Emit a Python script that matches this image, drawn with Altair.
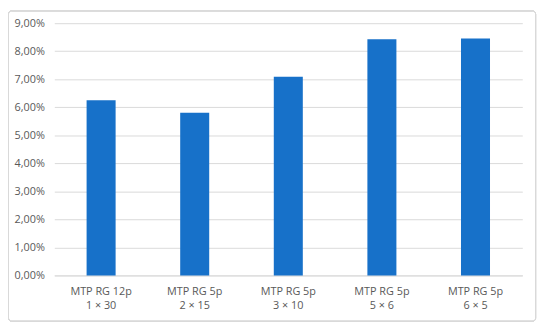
import altair as alt
import pandas as pd

categories = ["MTP RG 12p\n1 × 30", "MTP RG 5p\n2 × 15", "MTP RG 5p\n3 × 10", "MTP RG 5p\n5 × 6", "MTP RG 5p\n6 × 5"]
values = [0.0625, 0.0580, 0.0709, 0.0843, 0.0845]
y_ticks = [0, 0.01, 0.02, 0.03, 0.04, 0.05, 0.06, 0.07, 0.08, 0.09]

df = pd.DataFrame({"cat": categories, "val": values})

FONT = "Open Sans"
GREY = "#595959"

bars = alt.Chart(df).mark_bar(color="#1771C9").encode(
    x=alt.X("cat:N", sort=categories, title=None,
            scale=alt.Scale(paddingInner=0.69, paddingOuter=0.345),
            axis=alt.Axis(labelAngle=0, labelExpr="split(datum.label, '\\n')",
                          labelFont=FONT, labelFontSize=11, labelColor=GREY,
                          labelPadding=10, labelLineHeight=15, ticks=False,
                          domainColor="#D9D9D9", domainWidth=1, grid=False)),
    y=alt.Y("val:Q", title=None,
            scale=alt.Scale(domain=[0, 0.09], nice=False),
            axis=alt.Axis(values=y_ticks,
                          labelExpr="replace(format(datum.value, '.2%'), '.', ',')",
                          labelFont=FONT, labelFontSize=11, labelColor=GREY,
                          labelPadding=10, ticks=False, domain=False,
                          gridColor="#D9D9D9", gridWidth=1)),
)

border = alt.Chart(df).mark_rect(fill=None, stroke="#D9D9D9", strokeWidth=1,
                                 cornerRadius=3, clip=False).encode(
    x=alt.value(-46.5), x2=alt.value(488.5), y=alt.value(-12.5), y2=alt.value(302.5)
)

chart = alt.layer(border, bars).properties(
    width=475, height=256,
    padding={"left": 47, "top": 13, "right": 20, "bottom": 53},
    autosize=alt.AutoSizeParams(type="none"),
).configure(background="white").configure_view(stroke=None)

chart.save("out.html", embed_options={"renderer": "svg", "actions": False})
